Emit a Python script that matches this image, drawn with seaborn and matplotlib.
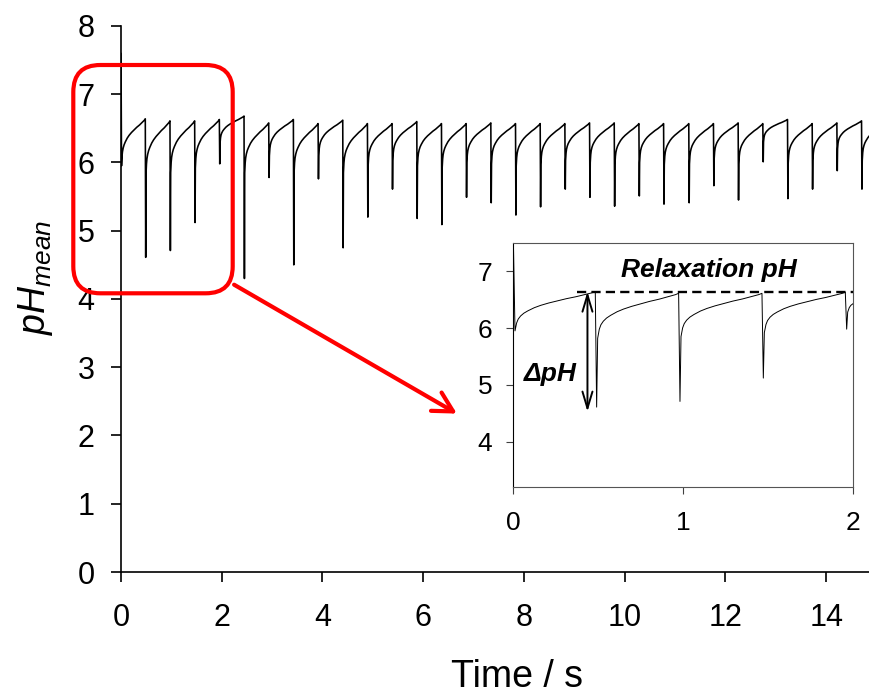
import matplotlib
matplotlib.use("Agg")
import matplotlib.pyplot as plt
from matplotlib.patches import FancyBboxPatch, FancyArrowPatch
import numpy as np
import pandas as pd
import seaborn as sns

# ---------------- data ----------------
start_value = 7.6          # value at t = 0 (clipped in the inset)
start_min = 5.95           # first minimum at t = 0.01 s
start_min_time = 0.01

drop_times = [0.49, 0.98, 1.47, 1.96, 2.45, 2.94, 3.43, 3.92, 4.41, 4.90,
              5.39, 5.88, 6.37, 6.86, 7.35, 7.84, 8.33, 8.82, 9.31, 9.80,
              10.29, 10.78, 11.28, 11.77, 12.26, 12.75, 13.24, 13.73, 14.22, 14.71]
drop_minima = [4.61, 4.71, 5.12, 5.98, 4.30, 5.78, 4.50, 5.76, 4.75, 5.20,
               5.61, 5.18, 5.09, 5.49, 5.41, 5.23, 5.35, 5.61, 5.49, 5.36,
               5.51, 5.39, 5.41, 5.66, 5.45, 6.01, 5.47, 5.61, 5.88, 5.61]
peaks_before_drop = [6.64, 6.61, 6.61, 6.63, 6.68, 6.58, 6.63, 6.57, 6.62, 6.57,
                     6.57, 6.60, 6.57, 6.57, 6.58, 6.57, 6.57, 6.57, 6.58, 6.58,
                     6.57, 6.57, 6.57, 6.57, 6.58, 6.57, 6.63, 6.57, 6.58, 6.61]
knee_after_drop = [5.82, 5.85, 5.92, 6.28, 5.85, 6.10, 5.85, 6.10, 5.85, 5.95,
                   6.03, 5.95, 5.92, 6.00, 5.98, 5.95, 5.97, 6.03, 6.00, 5.97,
                   6.00, 5.97, 5.98, 6.05, 5.98, 6.30, 5.99, 6.03, 6.20, 6.03]
end_time = 15.2
end_peak = 6.60

# recovery shape (fraction of cycle, fraction of rise)
profile_tau = [0.0, 0.02, 0.04, 0.07, 0.11, 0.16, 0.24, 0.32, 0.42, 0.52, 0.64, 0.76, 0.86, 0.96, 1.0]
profile_frac = [0.0, 0.20, 0.30, 0.38, 0.45, 0.51, 0.59, 0.65, 0.71, 0.76, 0.82, 0.87, 0.92, 0.97, 1.0]

# ---------------- build the trace ----------------
t_pts = [0.0]
ph_pts = [start_value]
seg_starts = [(start_min_time, start_min, start_min)]  # (time, min, knee)
for d, m, k in zip(drop_times, drop_minima, knee_after_drop):
    seg_starts.append((d, m, k))
seg_ends = list(zip(drop_times, peaks_before_drop)) + [(end_time, end_peak)]

for (d, m, k), (d_next, p_next) in zip(seg_starts, seg_ends):
    if d != start_min_time:
        t_pts.append(d)
        ph_pts.append(m)
        t0 = d + 0.006
    else:
        t0 = d
    t1 = d_next - 0.008
    for tau, fr in zip(profile_tau, profile_frac):
        t_pts.append(t0 + tau * (t1 - t0))
        ph_pts.append(k + fr * (p_next - k))

df = pd.DataFrame({"Time": t_pts, "pH": ph_pts})

# ---------------- styling ----------------
sns.set_style("ticks")
plt.rcParams["font.family"] = ["Liberation Sans", "DejaVu Sans"]
plt.rcParams["mathtext.fontset"] = "custom"
plt.rcParams["mathtext.it"] = "Liberation Sans:italic"
plt.rcParams["mathtext.rm"] = "Liberation Sans"
plt.rcParams["mathtext.bf"] = "Liberation Sans:bold"
plt.rcParams["text.color"] = "black"
plt.rcParams["axes.labelcolor"] = "black"
plt.rcParams["xtick.color"] = "black"
plt.rcParams["ytick.color"] = "black"
plt.rcParams["xtick.labelcolor"] = "black"
plt.rcParams["ytick.labelcolor"] = "black"

fig = plt.figure(figsize=(8.7, 6.93), dpi=100)
ax = fig.add_axes([0.1391, 0.1746, 0.8609, 0.7879])

sns.lineplot(data=df, x="Time", y="pH", ax=ax, color="black", linewidth=1.15,
             estimator=None, sort=False)
ax.set_xlim(0, 14.87)
ax.set_ylim(0, 8)
ax.set_xticks(range(0, 15, 2))
ax.set_yticks(range(0, 9))
for s in ["top", "right"]:
    ax.spines[s].set_visible(False)
for s in ["left", "bottom"]:
    ax.spines[s].set_linewidth(1.2)
    ax.spines[s].set_color("black")
ax.tick_params(axis="both", direction="out", length=7, width=1.2, color="black",
               labelsize=22, labelcolor="black")
ax.tick_params(axis="x", pad=15)
ax.tick_params(axis="y", pad=12)
ax.set_xlabel("Time / s", fontsize=27, color="black")
ax.xaxis.label.set_va("baseline")
ax.xaxis.set_label_coords(0.529, -0.210)
ax.set_ylabel(r"$pH_{mean}$", fontsize=27, color="black")
ax.yaxis.label.set_va("center")
ax.yaxis.set_label_coords(-0.114, 0.54)

# red rounded box and arrow (in inches, so corners are round)
box = FancyBboxPatch((0.733, 3.997), 1.594, 2.283,
                     boxstyle="round,pad=0,rounding_size=0.27",
                     transform=fig.dpi_scale_trans, fill=False,
                     edgecolor="#ff0000", linewidth=3.0, clip_on=False, zorder=5)
fig.patches.append(box)
arr = FancyArrowPatch((2.317, 4.097), (4.593, 2.78),
                      arrowstyle="->,head_length=0.7,head_width=0.38",
                      mutation_scale=20, color="#ff0000", linewidth=3.0,
                      transform=fig.dpi_scale_trans, clip_on=False, zorder=5)
fig.patches.append(arr)

# ---------------- inset ----------------
ins = fig.add_axes([0.590, 0.2968, 0.391, 0.353])
ins.set_facecolor("white")
inset_df = df[df["Time"] <= 2.1]
sns.lineplot(data=inset_df, x="Time", y="pH", ax=ins, color="black", linewidth=0.7,
             estimator=None, sort=False)
ins.set_xlim(0, 2)
ins.set_ylim(3.2, 7.5)
ins.set_xticks([0, 1, 2])
ins.set_yticks([4, 5, 6, 7])
ins.set_xlabel("")
ins.set_ylabel("")
for name, s in ins.spines.items():
    s.set_linewidth(0.8)
    s.set_color("black" if name == "left" else "#555555")
ins.tick_params(axis="both", direction="out", length=5, width=0.8, color="#404040",
                labelsize=19, labelcolor="black")
ins.tick_params(axis="x", pad=12)
ins.tick_params(axis="y", pad=10)

relax_level = 6.64
ins.plot([0.373, 2.0], [relax_level, relax_level], color="black", linewidth=1.7,
         linestyle=(0, (3.9, 2.2)), solid_capstyle="butt")
ins.annotate("", xy=(0.436, 4.53), xytext=(0.436, relax_level),
             arrowprops=dict(arrowstyle="<->,head_length=0.6,head_width=0.18",
                             mutation_scale=20, color="black", linewidth=1.4,
                             shrinkA=0, shrinkB=0))
ins.text(1.15, 6.90, "Relaxation pH", fontsize=19, fontweight="bold",
         fontstyle="italic", ha="center", va="baseline")
ins.text(0.22, 5.07, "ΔpH", fontsize=19, fontweight="bold", fontstyle="italic",
         ha="center", va="baseline")

fig.savefig("out.png", dpi=100)
